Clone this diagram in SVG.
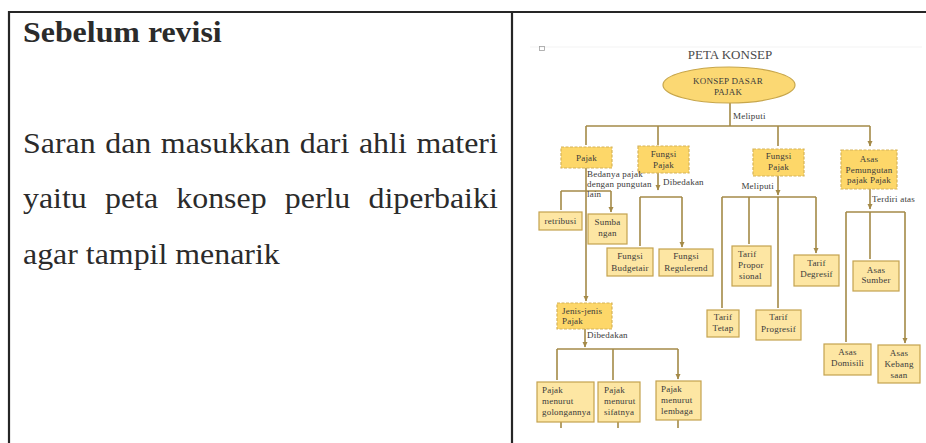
<svg xmlns="http://www.w3.org/2000/svg" width="926" height="443" viewBox="0 0 926 443">
<defs>
<style>
.frame{stroke:#262626;stroke-width:2.2;fill:none}
.lt{font-family:"Liberation Serif","Times New Roman",serif;fill:#2b2b2b}
.t{font-family:"Liberation Serif","Times New Roman",serif;font-size:9px;fill:#3a3a3a;letter-spacing:0.2px}
.c{text-anchor:middle}
.solid{fill:#FDE6A3;stroke:#C4A24F;stroke-width:1.2}
.dash{fill:#FDD769;stroke:#D6B45A;stroke-width:1.2;stroke-dasharray:3 1.5}
.ln{stroke:#A48A48;stroke-width:1.6;fill:none}
.ar{marker-end:url(#ah)}
</style>
<marker id="ah" markerWidth="6" markerHeight="6" refX="5" refY="3" orient="auto" markerUnits="userSpaceOnUse">
<path d="M0,0.5 L5.5,3 L0,5.5 z" fill="#A48A48"/>
</marker>
</defs>
<rect width="926" height="443" fill="#ffffff"/>
<g id="table">
<line class="frame" x1="8" y1="12" x2="926" y2="12"/>
<line class="frame" x1="9" y1="11" x2="9" y2="443"/>
<line class="frame" x1="512" y1="11" x2="512" y2="443"/>
</g>
<g id="left-text" class="lt" transform="translate(23,0) scale(1.1,1)">
<text x="0" y="42" font-size="29" font-weight="bold">Sebelum revisi</text>
<text x="0" y="153" font-size="29" word-spacing="1.5">Saran dan masukkan dari ahli materi</text>
<text x="0" y="208" font-size="29" word-spacing="9.3">yaitu peta konsep perlu diperbaiki</text>
<text x="0" y="264" font-size="29">agar tampil menarik</text>
</g>
<g id="image-frame">
<line x1="530" y1="47" x2="922" y2="47" stroke="#f3f3f3" stroke-width="1"/>
<rect x="539.5" y="46.5" width="5" height="4" fill="none" stroke="#a0a0a0" stroke-width="0.8"/>
<text x="730" y="59" font-family="Liberation Serif, serif" font-size="13" fill="#4a4a4a" text-anchor="middle">PETA KONSEP</text>
</g>
<g id="connectors">
<path class="ln" d="M730,103 V126 M586,126 H870"/>
<path class="ln ar" d="M586,126 V145 M658,126 V145 M778,126 V146 M870,126 V146"/>
<path class="ln ar" d="M586,168 V301"/>
<path class="ln" d="M561,191 H611"/>
<path class="ln ar" d="M561,191 V210 M611,191 V212"/>
<path class="ln ar" d="M658,173 V190"/>
<path class="ln" d="M640,197 H682"/>
<path class="ln ar" d="M640,197 V246 M682,197 V247"/>
<path class="ln ar" d="M778,176 V195"/>
<path class="ln" d="M722,197 H816"/>
<path class="ln ar" d="M778,197 V308 M722,197 V308 M749,197 V244 M816,197 V253"/>
<path class="ln ar" d="M870,189 V209"/>
<path class="ln" d="M846,212 H905"/>
<path class="ln ar" d="M846,212 V342 M870,212 V259 M905,212 V343"/>
<path class="ln ar" d="M585,329 V347"/>
<path class="ln" d="M557,349 H678"/>
<path class="ln ar" d="M557,349 V380 M613,349 V380 M678,349 V379"/>
<path class="ln" d="M561,422 V428 M618,422 V428 M678,420 V428"/>
</g>
<g id="root">
<ellipse cx="729" cy="85" rx="66" ry="18" fill="#FBD873" stroke="#C7A64B" stroke-width="1.2"/>
<text class="t c" x="728" y="84">KONSEP DASAR</text>
<text class="t c" x="728" y="95">PAJAK</text>
</g>
<g id="lbl-meliputi"><text class="t" x="733" y="119">Meliputi</text></g>
<g id="n-pajak">
<rect class="dash" x="561" y="147" width="51" height="21"/>
<text class="t c" x="586.5" y="161">Pajak</text>
</g>
<g id="n-fungsi1">
<rect class="dash" x="638" y="146" width="51" height="27"/>
<text class="t c" x="663.5" y="157">Fungsi</text>
<text class="t c" x="663.5" y="168">Pajak</text>
</g>
<g id="n-fungsi2">
<rect class="dash" x="753" y="149" width="51" height="27"/>
<text class="t c" x="778.5" y="159">Fungsi</text>
<text class="t c" x="778.5" y="170">Pajak</text>
</g>
<g id="n-asas">
<rect class="dash" x="841" y="150" width="56" height="39"/>
<text class="t c" x="869" y="162">Asas</text>
<text class="t c" x="869" y="172.5">Pemungutan</text>
<text class="t c" x="869" y="183">pajak Pajak</text>
</g>
<g id="lbl-bedanya">
<text class="t" x="587" y="177">Bedanya pajak</text>
<text class="t" x="587" y="187">dengan pungutan</text>
<text class="t" x="587" y="197">lain</text>
</g>
<g id="n-retribusi">
<rect class="solid" x="539" y="212" width="43" height="18"/>
<text class="t c" x="560.5" y="224">retribusi</text>
</g>
<g id="n-sumbangan">
<rect class="solid" x="588" y="214" width="39" height="30"/>
<text class="t c" x="607.5" y="225">Sumba</text>
<text class="t c" x="607.5" y="236">ngan</text>
</g>
<g id="lbl-dibedakan1"><text class="t" x="663" y="185">Dibedakan</text></g>
<g id="n-budgetair">
<rect class="solid" x="607" y="248" width="46" height="28"/>
<text class="t c" x="630" y="259">Fungsi</text>
<text class="t c" x="630" y="271">Budgetair</text>
</g>
<g id="n-regulerend">
<rect class="solid" x="659" y="249" width="54" height="27"/>
<text class="t c" x="686" y="259">Fungsi</text>
<text class="t c" x="686" y="271">Regulerend</text>
</g>
<g id="lbl-meliputi2"><text class="t" x="774" y="189" text-anchor="end">Meliputi</text></g>
<g id="n-proporsional">
<rect class="solid" x="732" y="246" width="39" height="40"/>
<text class="t" x="738" y="257">Tarif</text>
<text class="t" x="738" y="268">Propor</text>
<text class="t" x="739" y="279">sional</text>
</g>
<g id="n-degresif">
<rect class="solid" x="794" y="255" width="45" height="31"/>
<text class="t c" x="816.5" y="266">Tarif</text>
<text class="t c" x="816.5" y="277">Degresif</text>
</g>
<g id="lbl-terdiri"><text class="t" x="872" y="202">Terdiri atas</text></g>
<g id="n-sumber">
<rect class="solid" x="853" y="261" width="46" height="30"/>
<text class="t c" x="876" y="273">Asas</text>
<text class="t c" x="876" y="283">Sumber</text>
</g>
<g id="n-tetap">
<rect class="solid" x="707" y="310" width="32" height="27"/>
<text class="t c" x="723" y="320">Tarif</text>
<text class="t c" x="723" y="331">Tetap</text>
</g>
<g id="n-progresif">
<rect class="solid" x="756" y="310" width="45" height="30"/>
<text class="t c" x="778.5" y="320">Tarif</text>
<text class="t c" x="778.5" y="332">Progresif</text>
</g>
<g id="n-domisili">
<rect class="solid" x="824" y="344" width="47" height="31"/>
<text class="t c" x="847.5" y="355">Asas</text>
<text class="t c" x="847.5" y="366">Domisili</text>
</g>
<g id="n-kebangsaan">
<rect class="solid" x="878" y="345" width="42" height="38"/>
<text class="t c" x="899" y="356">Asas</text>
<text class="t c" x="899" y="367">Kebang</text>
<text class="t c" x="899" y="378">saan</text>
</g>
<g id="n-jenis">
<rect class="dash" x="557" y="303" width="55" height="26"/>
<text class="t" x="562" y="314">Jenis-jenis</text>
<text class="t" x="562" y="324">Pajak</text>
</g>
<g id="lbl-dibedakan2"><text class="t" x="587" y="338">Dibedakan</text></g>
<g id="n-golongan">
<rect class="solid" x="537" y="382" width="57" height="40"/>
<text class="t" x="542" y="393">Pajak</text>
<text class="t" x="542" y="404">menurut</text>
<text class="t" x="542" y="415">golongannya</text>
</g>
<g id="n-sifat">
<rect class="solid" x="598" y="382" width="42" height="40"/>
<text class="t" x="604" y="393">Pajak</text>
<text class="t" x="604" y="404">menurut</text>
<text class="t" x="604" y="415">sifatnya</text>
</g>
<g id="n-lembaga">
<rect class="solid" x="656" y="381" width="45" height="39"/>
<text class="t" x="661" y="392">Pajak</text>
<text class="t" x="661" y="403">menurut</text>
<text class="t" x="661" y="414">lembaga</text>
</g>
</svg>
